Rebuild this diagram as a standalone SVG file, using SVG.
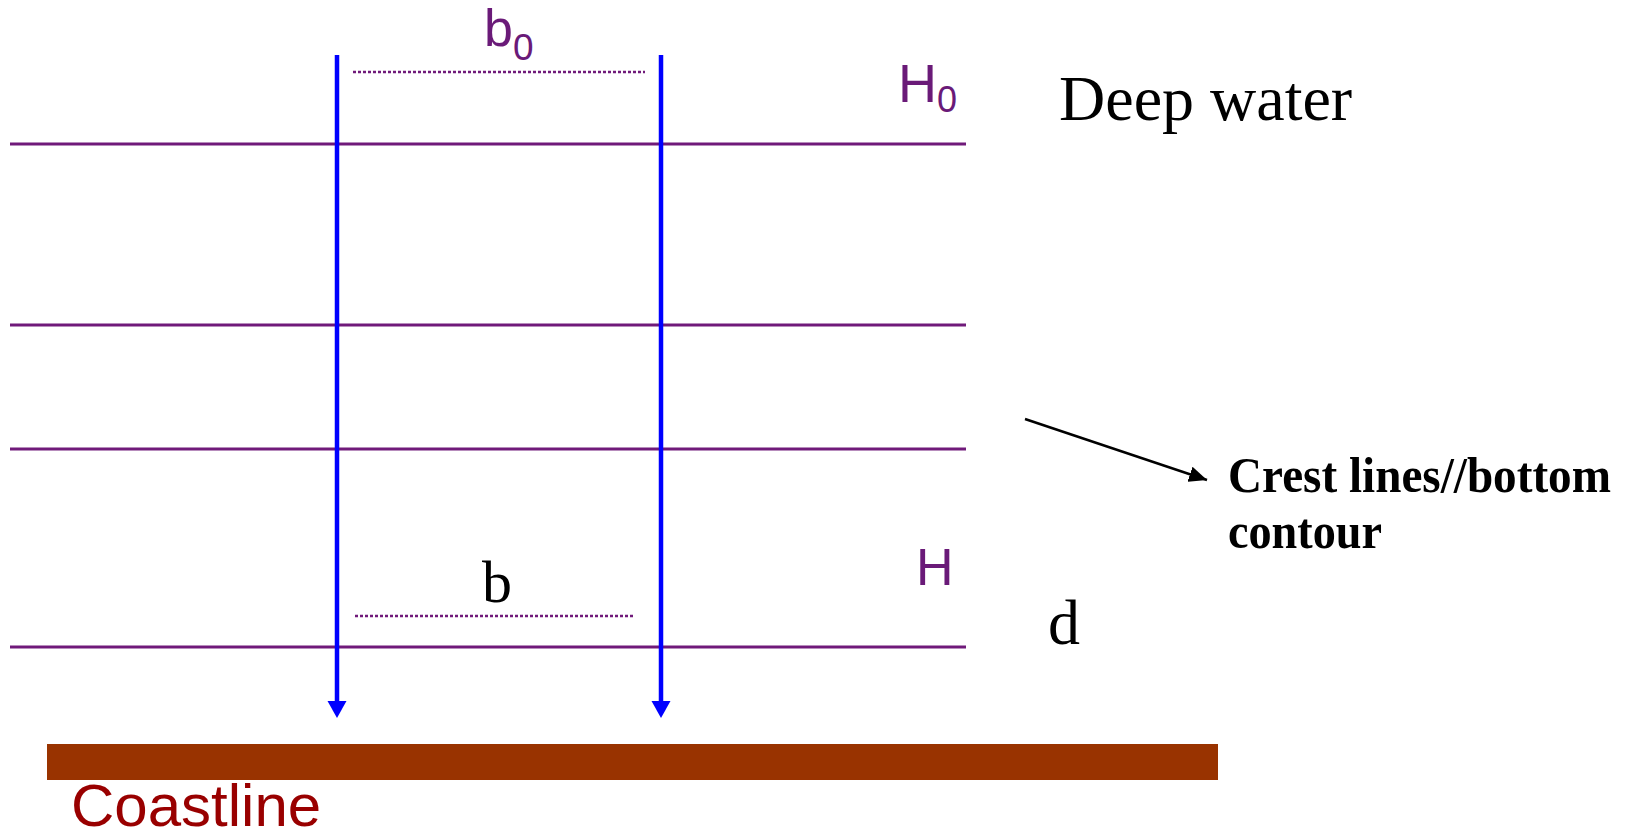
<svg xmlns="http://www.w3.org/2000/svg" width="1632" height="840" viewBox="0 0 1632 840">
<style>
.crest{stroke:#701A7A;stroke-width:3;fill:none}
.dot{stroke:#701A7A;stroke-width:2.5;stroke-dasharray:3 2;fill:none}
.ray{stroke:#0000FF;stroke-width:4.5;fill:none}
.sans{font-family:"Liberation Sans",Arial,sans-serif}
.serif{font-family:"Liberation Serif","Times New Roman",serif}
.purple{fill:#6A1A78}
</style>
<defs>
<marker id="blueHead" markerUnits="userSpaceOnUse" markerWidth="20" markerHeight="20" refX="0" refY="9.5" orient="auto" overflow="visible">
<path d="M0,0 L17,9.5 L0,19 Z" fill="#0000FF"/>
</marker>
<marker id="blackHead" markerUnits="userSpaceOnUse" markerWidth="20" markerHeight="16" refX="18" refY="8" orient="auto">
<path d="M0,0 L18,8 L0,16 Z" fill="#000"/>
</marker>
</defs>
<rect width="1632" height="840" fill="#fff"/>
<g id="crest-lines">
<line class="crest" x1="10" y1="144" x2="966" y2="144"/>
<line class="crest" x1="10" y1="325" x2="966" y2="325"/>
<line class="crest" x1="10" y1="449" x2="966" y2="449"/>
<line class="crest" x1="10" y1="647" x2="966" y2="647"/>
</g>
<g id="width-markers">
<line class="dot" x1="353" y1="72" x2="645" y2="72"/>
<line class="dot" x1="355" y1="616" x2="635" y2="616"/>
</g>
<g id="connectors">
<line class="ray" x1="337" y1="55" x2="337" y2="701" marker-end="url(#blueHead)"/>
<line class="ray" x1="661" y1="55" x2="661" y2="701" marker-end="url(#blueHead)"/>
<line x1="1025" y1="419" x2="1207" y2="480" stroke="#000" stroke-width="2.5" marker-end="url(#blackHead)"/>
</g>
<g id="coastline">
<rect x="47" y="744" width="1171" height="36" fill="#993300"/>
<text class="sans" x="71" y="826" font-size="60" fill="#990000">Coastline</text>
</g>
<g id="label-b0">
<text class="sans purple" x="484" y="46" font-size="52">b<tspan font-size="37" dy="14">0</tspan></text>
</g>
<g id="label-H0">
<text class="sans purple" x="898" y="102" font-size="54">H<tspan font-size="36" dy="10">0</tspan></text>
</g>
<g id="label-deep">
<text class="serif" x="1059" y="120" font-size="64" fill="#000">Deep water</text>
</g>
<g id="label-H">
<text class="sans purple" x="916" y="585" font-size="52">H</text>
</g>
<g id="label-b">
<text class="serif" x="482" y="602" font-size="60" fill="#000">b</text>
</g>
<g id="label-d">
<text class="serif" x="1048" y="644" font-size="64" fill="#000">d</text>
</g>
<g id="label-crest">
<text class="serif" x="1228" y="492" font-size="50" font-weight="bold" fill="#000" textLength="383" lengthAdjust="spacingAndGlyphs">Crest lines//bottom</text>
<text class="serif" x="1228" y="548" font-size="50" font-weight="bold" fill="#000" textLength="154" lengthAdjust="spacingAndGlyphs">contour</text>
</g>
</svg>
